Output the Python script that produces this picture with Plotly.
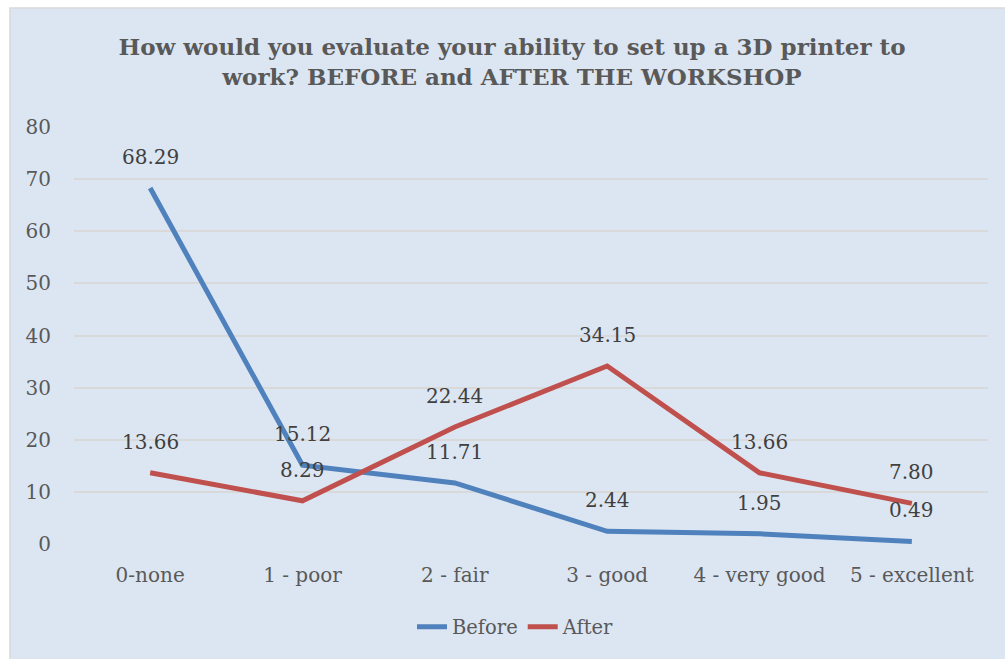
import plotly.graph_objects as go

categories = ["0-none", "1 - poor", "2 - fair", "3 - good", "4 - very good", "5 - excellent"]
before = [68.29, 15.12, 11.71, 2.44, 1.95, 0.49]
after = [13.66, 8.29, 22.44, 34.15, 13.66, 7.80]

W, H = 1005, 659
ML, MR, MT, MB = 74, 17, 127, 115
PW, PH = W - ML - MR, H - MT - MB

def px(x):
    return (x - ML) / PW

def py(y):
    return 1 - (y - MT) / PH

BG = "#DCE6F2"
BLUE = "#4F81BD"
RED = "#C0504D"
FONT = "DejaVu Serif"

fig = go.Figure()
fig.add_trace(go.Scatter(x=categories, y=before, mode="lines", name="Before",
                         line=dict(color=BLUE, width=5)))
fig.add_trace(go.Scatter(x=categories, y=after, mode="lines", name="After",
                         line=dict(color=RED, width=5)))

for series in (before, after):
    for c, v in zip(categories, series):
        fig.add_annotation(x=c, y=v, text=f"{v:.2f}", showarrow=False, yshift=31,
                           font=dict(family=FONT, size=20, color="#404040"))

fig.add_shape(type="rect", xref="paper", yref="paper",
              x0=px(10), x1=px(1010), y0=py(665), y1=py(8),
              fillcolor=BG, line=dict(color="#D9D9D9", width=1.5), layer="below")

fig.update_layout(
    width=W, height=H,
    margin=dict(l=ML, r=MR, t=MT, b=MB, autoexpand=False),
    paper_bgcolor="white",
    plot_bgcolor="rgba(0,0,0,0)",
    title=dict(text="<b>How would you evaluate your ability to set up a 3D printer to<br>work? BEFORE and AFTER THE WORKSHOP</b>",
               xref="container", yref="container",
               x=512 / W, xanchor="center", y=1 - 55 / H, yanchor="middle",
               font=dict(family=FONT, size=23, color="#595959")),
    showlegend=True,
    legend=dict(orientation="h", x=px(516), xanchor="center",
                y=py(627), yanchor="middle",
                font=dict(family=FONT, size=19.5, color="#595959"),
                bgcolor="rgba(0,0,0,0)"),
    xaxis=dict(range=[-0.5, 5.5], showgrid=False, showline=False, ticks="",
               tickangle=0,
               tickfont=dict(family=FONT, size=20, color="#595959"),
               ticklabelstandoff=17),
    yaxis=dict(range=[0, 80], dtick=10, showgrid=True, gridcolor="#D9D9D9", gridwidth=1.5,
               zeroline=False, showline=False, ticks="",
               tickfont=dict(family=FONT, size=20, color="#595959"),
               ticklabelstandoff=22),
)

fig.write_html("out.html")
